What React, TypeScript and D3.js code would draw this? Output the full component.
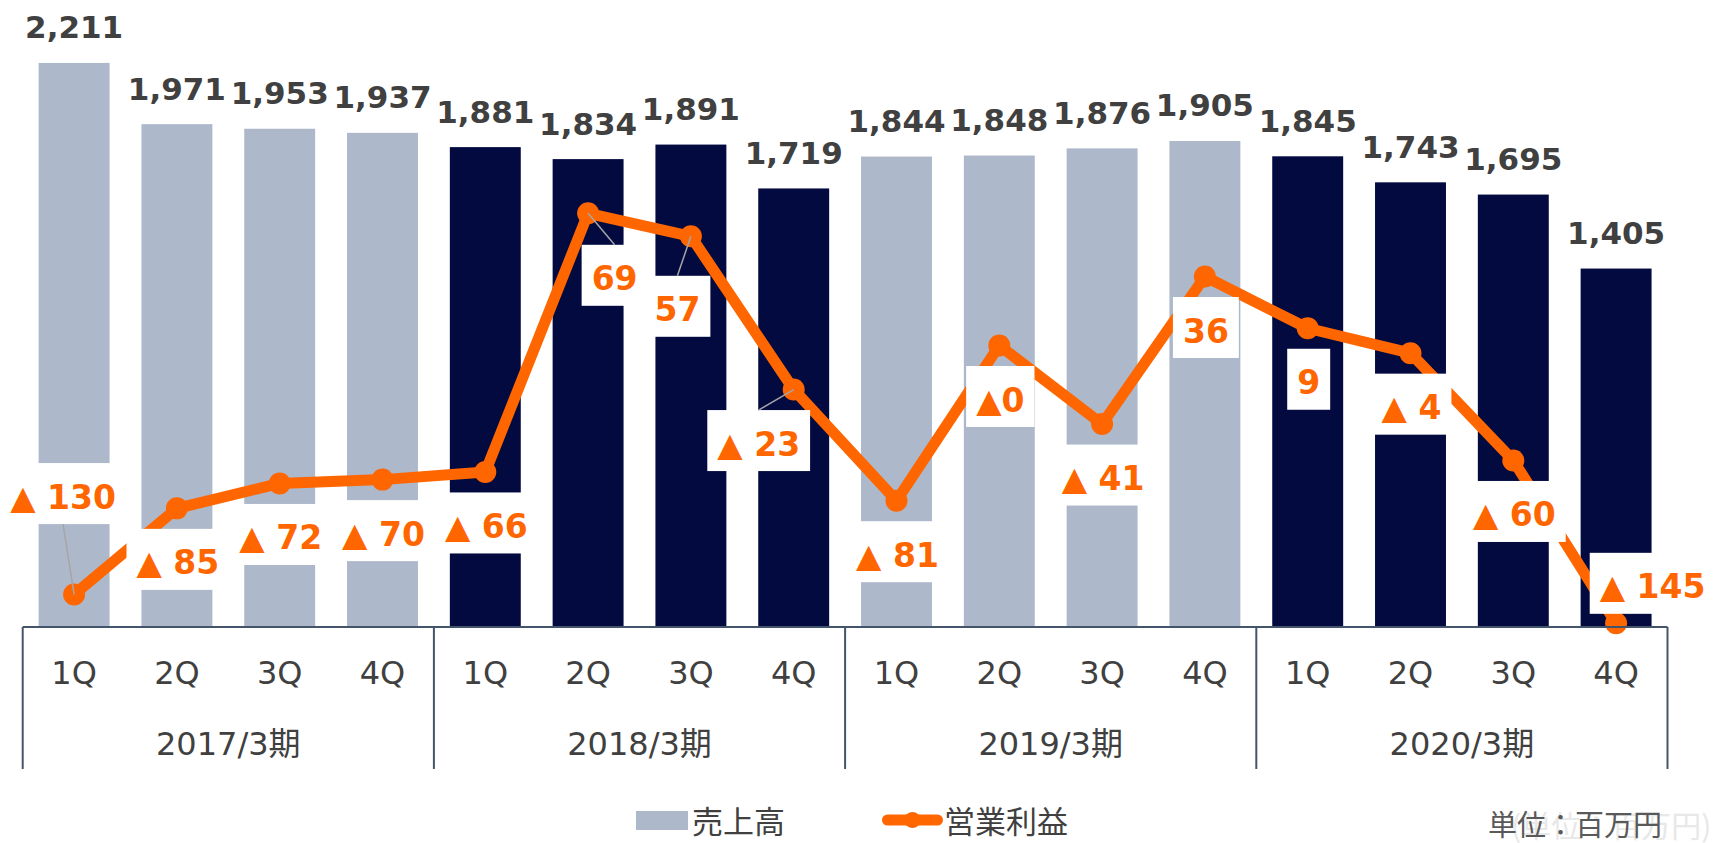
import React, {useRef, useEffect} from 'react';
import * as d3 from 'd3';

const quarters = ['1Q', '2Q', '3Q', '4Q', '1Q', '2Q', '3Q', '4Q', '1Q', '2Q', '3Q', '4Q', '1Q', '2Q', '3Q', '4Q'];
const periods = ['2017/3期', '2018/3期', '2019/3期', '2020/3期'];
const darkPeriod = [false, true, false, true];

// 売上高 (百万円)
const sales = [2211, 1971, 1953, 1937, 1881, 1834, 1891, 1719, 1844, 1848, 1876, 1905, 1845, 1743, 1695, 1405];
// 営業利益 (百万円)
const profit = [-130, -85, -72, -70, -66, 69, 57, -23, -81, 0, -41, 36, 9, -4, -60, -145];
const profitLabels = ['▲ 130', '▲ 85', '▲ 72', '▲ 70', '▲ 66', '69', '57', '▲ 23', '▲ 81', '▲0', '▲ 41', '36', '9', '▲ 4', '▲ 60', '▲ 145'];

const WIDTH = 1729, HEIGHT = 843;
const LIGHT = '#adb9ca', DARK = '#020a40', ORANGE = '#ff6600', TEXT = '#404040', AXIS = '#44546a';
const LATIN = '"DejaVu Sans", "Noto Sans CJK JP", sans-serif';
const CJK = '"Noto Sans CJK JP", "DejaVu Sans", sans-serif';

// label boxes were dragged by hand in the original, default sits below the point
const labelMoved = {0: [-11, -101], 5: [26.5, 62], 6: [-13.5, 70], 7: [-35, 51], 15: [36.5, -40]};
const withLeader = [0, 5, 6, 7];

const App = () => {
    const svgRef = useRef();

    useEffect(() => {
        const svg = d3.select(svgRef.current);
        svg.selectAll('*').remove();

        const x = d3.scaleBand()
            .domain(d3.range(sales.length))
            .range([22.7, 1667.5])
            .paddingInner(0.31)
            .paddingOuter(0.155);
        const y = d3.scaleLinear().domain([0, 2500]).range([627, -10.8]);
        const y2 = d3.scaleLinear().domain([-150, 100]).range([632.9, 153.9]);
        const cx = i => x(i) + x.bandwidth() / 2;

        // bars
        svg.append('g').selectAll('rect')
            .data(sales)
            .join('rect')
            .attr('x', (d, i) => x(i))
            .attr('y', d => y(d))
            .attr('width', x.bandwidth())
            .attr('height', d => y(0) - y(d))
            .attr('fill', (d, i) => darkPeriod[Math.floor(i / 4)] ? DARK : LIGHT);

        svg.append('g').selectAll('text')
            .data(sales)
            .join('text')
            .attr('x', (d, i) => cx(i))
            .attr('y', d => y(d) - 24.5)
            .attr('text-anchor', 'middle')
            .attr('font-family', LATIN)
            .attr('font-weight', 'bold')
            .attr('font-size', 31)
            .attr('fill', TEXT)
            .text(d => d3.format(',')(d));

        // profit line
        const line = d3.line().x((d, i) => cx(i)).y(d => y2(d));
        svg.append('path')
            .datum(profit)
            .attr('d', line)
            .attr('fill', 'none')
            .attr('stroke', ORANGE)
            .attr('stroke-width', 11)
            .attr('stroke-linejoin', 'round');

        svg.append('g').selectAll('circle')
            .data(profit)
            .join('circle')
            .attr('cx', (d, i) => cx(i))
            .attr('cy', d => y2(d))
            .attr('r', 11)
            .attr('fill', ORANGE);

        // data labels with white boxes
        const boxes = svg.append('g');
        const leaders = svg.append('g');
        const labels = svg.append('g');
        profit.forEach((v, i) => {
            const off = labelMoved[i] || [1, 51];
            const px = cx(i), py = y2(v);
            const bx = px + off[0], by = py + off[1];
            const t = labels.append('text')
                .attr('x', bx)
                .attr('y', by + 15)
                .attr('text-anchor', 'middle')
                .attr('font-family', LATIN)
                .attr('font-weight', 'bold')
                .attr('font-size', 33)
                .attr('fill', ORANGE)
                .text(profitLabels[i]);
            const w = t.node().getComputedTextLength() + 20;
            boxes.append('rect')
                .attr('x', bx - w / 2)
                .attr('y', by - 30.5)
                .attr('width', w)
                .attr('height', 61)
                .attr('fill', '#fff');
            if (withLeader.includes(i)) {
                const ey = by < py ? by + 30.5 : by - 30.5;
                leaders.append('line')
                    .attr('x1', px).attr('y1', py)
                    .attr('x2', bx).attr('y2', ey)
                    .attr('stroke', '#a6a6a6')
                    .attr('stroke-width', 1.5);
            }
        });

        // category axis
        const x0 = x.range()[0], x1 = x.range()[1], step = x.step();
        const axis = svg.append('g').attr('stroke', AXIS).attr('stroke-width', 2);
        axis.append('line').attr('x1', x0).attr('x2', x1).attr('y1', 627).attr('y2', 627);
        d3.range(periods.length + 1).forEach(k => {
            axis.append('line')
                .attr('x1', x0 + k * 4 * step).attr('x2', x0 + k * 4 * step)
                .attr('y1', 627).attr('y2', 769);
        });

        svg.append('g').selectAll('text')
            .data(quarters)
            .join('text')
            .attr('x', (d, i) => cx(i))
            .attr('y', 684)
            .attr('text-anchor', 'middle')
            .attr('font-family', LATIN)
            .attr('font-size', 32)
            .attr('fill', TEXT)
            .text(d => d);

        svg.append('g').selectAll('text')
            .data(periods)
            .join('text')
            .attr('x', (d, k) => x0 + (k * 4 + 2) * step)
            .attr('y', 755)
            .attr('text-anchor', 'middle')
            .attr('font-family', LATIN)
            .attr('font-size', 32)
            .attr('fill', TEXT)
            .text(d => d);

        // legend
        const legend = svg.append('g');
        legend.append('rect').attr('x', 636).attr('y', 811).attr('width', 52).attr('height', 19).attr('fill', LIGHT);
        legend.append('text').attr('x', 692).attr('y', 833)
            .attr('font-family', CJK).attr('font-size', 31).attr('fill', TEXT).text('売上高');
        legend.append('line').attr('x1', 887.5).attr('x2', 937.5).attr('y1', 820).attr('y2', 820)
            .attr('stroke', ORANGE).attr('stroke-width', 11).attr('stroke-linecap', 'round');
        legend.append('circle').attr('cx', 912.5).attr('cy', 820).attr('r', 8).attr('fill', ORANGE);
        legend.append('text').attr('x', 944).attr('y', 833)
            .attr('font-family', CJK).attr('font-size', 31).attr('fill', TEXT).text('営業利益');

        // unit note (a faded copy sits behind it in the original)
        svg.append('text').attr('x', 1511).attr('y', 837)
            .attr('font-family', CJK).attr('font-size', 30).attr('fill', '#e8e8e8').text('(単位：百万円)');
        svg.append('text').attr('x', 1488).attr('y', 836)
            .attr('font-family', CJK).attr('font-size', 29).attr('fill', '#595959').text('単位：百万円');
    }, []);

    return <svg ref={svgRef} width={WIDTH} height={HEIGHT}
                style={{position: 'absolute', left: 0, top: 0, background: '#fff'}}/>;
};

export default App;
